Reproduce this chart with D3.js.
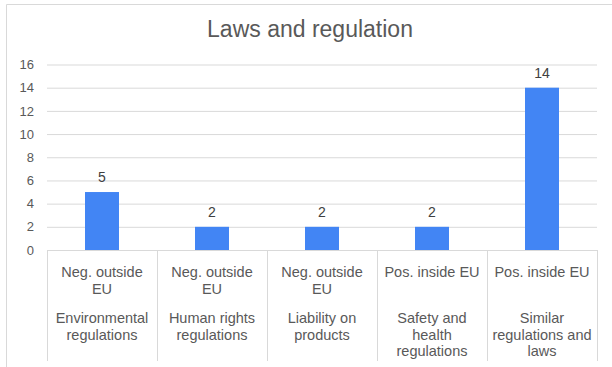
<!DOCTYPE html>
<html>
<head>
<meta charset="utf-8">
<script src="https://cdn.jsdelivr.net/npm/d3@7/dist/d3.min.js"></script>
<style>
	body { margin: 0; background: #fff; }
	text { font-family: "Liberation Sans", Arial, sans-serif; fill: #595959; }
</style>
</head>
<body>
<svg id="chart" width="612" height="367"></svg>
<script>
	// chart data
	var groups = ['Neg. outside\nEU', 'Neg. outside\nEU', 'Neg. outside\nEU', 'Pos. inside EU', 'Pos. inside EU'];
	var topics = ['Environmental\nregulations', 'Human rights\nregulations', 'Liability on\nproducts',
		'Safety and\nhealth\nregulations', 'Similar\nregulations and\nlaws'];
	var values = [5, 2, 2, 2, 14];
	var yTicks = [0, 2, 4, 6, 8, 10, 12, 14, 16];
	var title = 'Laws and regulation';

	var svg = d3.select('#chart'),
		plotLeft = 47,
		plotRight = 597,
		plotTop = 64.5,
		plotBottom = 250;

	// outer chart frame (right and bottom edges fall outside the picture)
	svg.append('path')
		.attr('d', 'M6.5,367V4.5H612')
		.attr('fill', 'none')
		.attr('stroke', '#d9d9d9');

	svg.append('text')
		.attr('x', 310)
		.attr('y', 37)
		.attr('text-anchor', 'middle')
		.style('font-size', '23px')
		.text(title);

	var x = d3.scaleBand()
		.domain(d3.range(values.length))
		.range([plotLeft, plotRight])
		.paddingInner(0)
		.paddingOuter(0);

	var y = d3.scaleLinear()
		.domain([0, 16])
		.range([plotBottom, plotTop]);

	// grid lines and tick labels
	var yAxis = svg.append('g')
		.attr('transform', 'translate(' + plotLeft + ',0)')
		.call(d3.axisLeft(y).tickValues(yTicks).tickSize(-(plotRight - plotLeft)).tickPadding(13));

	yAxis.select('.domain').remove();
	yAxis.selectAll('.tick line').attr('stroke', '#d9d9d9');
	yAxis.selectAll('.tick text')
		.style('font-size', '13px')
		.attr('fill', '#595959')
		.style('font-family', '"Liberation Sans", Arial, sans-serif');

	// bars
	var barW = 34;
	svg.append('g').selectAll('rect')
		.data(values)
		.enter().append('rect')
		.attr('x', function (d, i) { return x(i) + x.bandwidth() / 2 - barW / 2; })
		.attr('y', function (d) { return y(d); })
		.attr('width', barW)
		.attr('height', function (d) { return y(0) - y(d); })
		.attr('fill', '#4285f4');

	// value labels
	svg.append('g').selectAll('text')
		.data(values)
		.enter().append('text')
		.attr('x', function (d, i) { return x(i) + x.bandwidth() / 2; })
		.attr('y', function (d) { return y(d) - 10; })
		.attr('text-anchor', 'middle')
		.style('font-size', '14px')
		.style('fill', '#404040')
		.text(function (d) { return d; });

	// category separators
	var edges = d3.range(values.length + 1).map(function (i) {
		return i < values.length ? x(i) : plotRight;
	});
	svg.append('g').selectAll('line')
		.data(edges)
		.enter().append('line')
		.attr('x1', function (d) { return Math.round(d) + 0.5; })
		.attr('x2', function (d) { return Math.round(d) + 0.5; })
		.attr('y1', plotBottom)
		.attr('y2', 361)
		.attr('stroke', '#d9d9d9');

	// two-level category labels
	function multiLine(sel, txt, y0) {
		txt.split('\n').forEach(function (line, k) {
			sel.append('tspan')
				.attr('x', sel.attr('x'))
				.attr('y', y0 + k * 16.5)
				.text(line);
		});
	}

	var labels = svg.append('g').style('font-size', '14.5px');
	groups.forEach(function (g, i) {
		var cx = x(i) + x.bandwidth() / 2;
		var t1 = labels.append('text').attr('x', cx).attr('text-anchor', 'middle');
		multiLine(t1, g, 277);
		var t2 = labels.append('text').attr('x', cx).attr('text-anchor', 'middle');
		multiLine(t2, topics[i], 323);
	});
</script>
</body>
</html>
